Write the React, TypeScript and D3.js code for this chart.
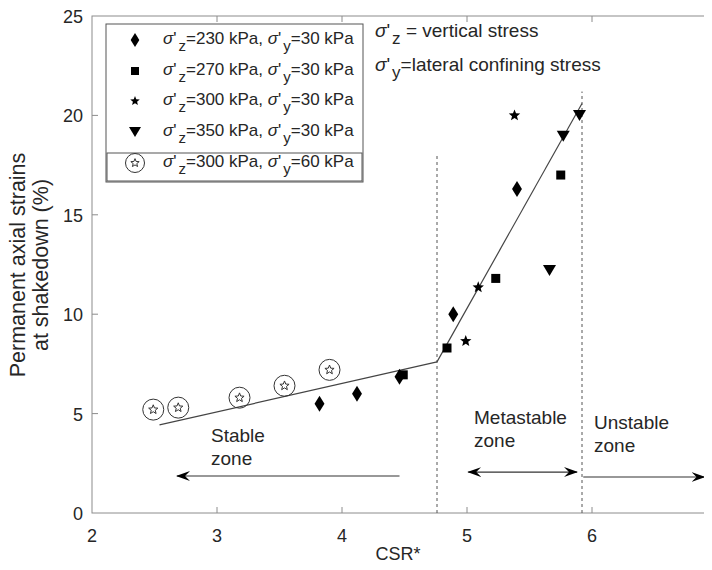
import React, { useEffect, useRef } from "react";
import * as d3 from "d3";

// csr* vs permanent axial strain at shakedown
const s300c60X = [2.49, 2.69, 3.18, 3.54, 3.9];
const s300c60Y = [5.2, 5.3, 5.8, 6.4, 7.2];
const s230X = [3.82, 4.12, 4.46, 4.89, 5.4];
const s230Y = [5.5, 6.0, 6.85, 10.0, 16.3];
const s270X = [4.49, 4.84, 5.23, 5.75];
const s270Y = [6.95, 8.3, 11.8, 17.0];
const s300X = [4.99, 5.09, 5.38];
const s300Y = [8.65, 11.35, 20.0];
const s350X = [5.66, 5.77, 5.9];
const s350Y = [12.2, 18.95, 20.0];

// fitted lines and zone limits
const stableFit = [[2.54, 4.43], [4.76, 7.6]];
const metaFit = [[4.76, 7.6], [5.92, 20.6]];
const zoneLimits = [[4.76, 18.0], [5.92, 21.2]];

const xTicks = [2, 3, 4, 5, 6, 7];
const yTicks = [0, 5, 10, 15, 20, 25];

const legendVertical = ["230", "270", "300", "350", "300"];
const legendLateral = ["30", "30", "30", "30", "60"];

const FONT = "Liberation Sans, Arial, sans-serif";
const TXT = "#262626";
const AXC = "#8c8c8c";

function starPath(rOut: number, rIn: number) {
  var pts: string[] = [];
  for (var i = 0; i < 10; i++) {
    var r = i % 2 === 0 ? rOut : rIn;
    var a = (Math.PI / 5) * i - Math.PI / 2;
    pts.push((r * Math.cos(a)).toFixed(2) + "," + (r * Math.sin(a)).toFixed(2));
  }
  return "M" + pts.join("L") + "Z";
}

function drawMarker(g: any, kind: string, size: number) {
  if (kind === "diamond") {
    var w = size * 0.62, h = size;
    g.append("path").attr("d", `M0,${-h / 2}L${w / 2},0L0,${h / 2}L${-w / 2},0Z`).attr("fill", "#000");
  } else if (kind === "square") {
    g.append("rect").attr("x", -size / 2).attr("y", -size / 2).attr("width", size).attr("height", size).attr("fill", "#000");
  } else if (kind === "star") {
    g.append("path").attr("d", starPath(size / 2, size / 4.6)).attr("fill", "#000");
  } else if (kind === "tri") {
    var tw = size, th = size * 0.85;
    g.append("path").attr("d", `M${-tw / 2},${-th / 2}L${tw / 2},${-th / 2}L0,${th / 2}Z`).attr("fill", "#000");
  } else if (kind === "circstar") {
    g.append("circle").attr("r", size / 2).attr("fill", "none").attr("stroke", "#333").attr("stroke-width", 1);
    g.append("path").attr("d", starPath(size * 0.23, size * 0.1)).attr("fill", "none").attr("stroke", "#333").attr("stroke-width", 1);
  }
}

function App() {
  const ref = useRef<SVGSVGElement>(null);

  useEffect(() => {
    var svg = d3.select(ref.current);
    svg.selectAll("*").remove();

    var x = d3.scaleLinear().domain([2, 7]).range([92, 717]);
    var y = d3.scaleLinear().domain([0, 25]).range([513, 16]);

    var defs = svg.append("defs");
    defs
      .append("marker")
      .attr("id", "ah")
      .attr("viewBox", "0 -6 14 12")
      .attr("refX", 13)
      .attr("refY", 0)
      .attr("markerWidth", 14)
      .attr("markerHeight", 12)
      .attr("markerUnits", "userSpaceOnUse")
      .attr("orient", "auto-start-reverse")
      .append("path")
      .attr("d", "M0,-5L14,0L0,5L5,0Z")
      .attr("fill", "#000");

    // axes box
    svg.append("rect").attr("x", x(2)).attr("y", y(25)).attr("width", x(7) - x(2)).attr("height", y(0) - y(25))
      .attr("fill", "#fff").attr("stroke", AXC).attr("stroke-width", 1);

    // ticks
    xTicks.forEach(function (t) {
      if (t === 2 || t === 7) return;
      svg.append("line").attr("x1", x(t)).attr("x2", x(t)).attr("y1", y(0)).attr("y2", y(0) - 6).attr("stroke", AXC);
      svg.append("line").attr("x1", x(t)).attr("x2", x(t)).attr("y1", y(25)).attr("y2", y(25) + 6).attr("stroke", AXC);
    });
    yTicks.forEach(function (t) {
      if (t === 0 || t === 25) return;
      svg.append("line").attr("x1", x(2)).attr("x2", x(2) + 6).attr("y1", y(t)).attr("y2", y(t)).attr("stroke", AXC);
    });

    svg.append("g").selectAll("text").data(xTicks).enter().append("text")
      .attr("x", function (d) { return x(d); }).attr("y", y(0) + 29)
      .attr("text-anchor", "middle").attr("font-family", FONT).attr("font-size", 18).attr("fill", TXT)
      .text(function (d) { return d; });
    svg.append("g").selectAll("text").data(yTicks).enter().append("text")
      .attr("x", x(2) - 9).attr("y", function (d) { return y(d) + 7; })
      .attr("text-anchor", "end").attr("font-family", FONT).attr("font-size", 18).attr("fill", TXT)
      .text(function (d) { return d; });

    svg.append("text").attr("x", 398).attr("y", 560).attr("text-anchor", "middle")
      .attr("font-family", FONT).attr("font-size", 18).attr("fill", TXT).text("CSR*");
    var yl = svg.append("text").attr("transform", "translate(25,265) rotate(-90)").attr("text-anchor", "middle")
      .attr("font-family", FONT).attr("font-size", 21.5).attr("fill", TXT);
    yl.append("tspan").attr("x", 0).attr("y", 0).text("Permanent axial strains");
    yl.append("tspan").attr("x", 0).attr("y", 23).text("at shakedown (%)");

    // zone limits
    zoneLimits.forEach(function (z) {
      svg.append("line").attr("x1", x(z[0])).attr("x2", x(z[0])).attr("y1", y(0)).attr("y2", y(z[1]))
        .attr("stroke", "#555").attr("stroke-width", 1).attr("stroke-dasharray", "3,3");
    });

    // fit lines
    var line = d3.line().x(function (d: any) { return x(d[0]); }).y(function (d: any) { return y(d[1]); });
    [stableFit, metaFit].forEach(function (f) {
      svg.append("path").attr("d", line(f as any)).attr("fill", "none").attr("stroke", "#444").attr("stroke-width", 1.2);
    });

    // markers
    var series = [
      { xs: s230X, ys: s230Y, kind: "diamond", size: 16 },
      { xs: s270X, ys: s270Y, kind: "square", size: 9 },
      { xs: s300X, ys: s300Y, kind: "star", size: 12 },
      { xs: s350X, ys: s350Y, kind: "tri", size: 13 },
      { xs: s300c60X, ys: s300c60Y, kind: "circstar", size: 21 },
    ];
    series.forEach(function (s) {
      s.xs.forEach(function (v, i) {
        var g = svg.append("g").attr("transform", "translate(" + x(v) + "," + y(s.ys[i]) + ")");
        drawMarker(g, s.kind, s.size);
      });
    });

    // arrows
    svg.append("line").attr("x1", x(4.46)).attr("x2", x(2.68)).attr("y1", y(1.86)).attr("y2", y(1.86))
      .attr("stroke", "#333").attr("stroke-width", 1.2).attr("marker-end", "url(#ah)");
    svg.append("line").attr("x1", x(5.01)).attr("x2", x(5.88)).attr("y1", y(2.06)).attr("y2", y(2.06))
      .attr("stroke", "#333").attr("stroke-width", 1.2).attr("marker-end", "url(#ah)").attr("marker-start", "url(#ah)");
    svg.append("line").attr("x1", x(5.93)).attr("x2", x(6.9)).attr("y1", y(1.81)).attr("y2", y(1.81))
      .attr("stroke", "#333").attr("stroke-width", 1.2).attr("marker-end", "url(#ah)");

    // zone labels
    function label(tx: number, ty: number, l1: string, l2: string) {
      var t = svg.append("text").attr("font-family", FONT).attr("font-size", 19).attr("fill", TXT);
      t.append("tspan").attr("x", tx).attr("y", ty).text(l1);
      t.append("tspan").attr("x", tx).attr("y", ty + 23).text(l2);
    }
    label(211, 442, "Stable", "zone");
    label(474, 424, "Metastable", "zone");
    label(594, 429, "Unstable", "zone");

    // stress notes
    function sigma(t: any, sub: string, subSize: number) {
      t.append("tspan").attr("font-style", "italic").text("\u03c3");
      t.append("tspan").text("'");
      t.append("tspan").attr("dy", 7).attr("dx", 2).attr("font-size", subSize).text(sub);
    }
    var n1 = svg.append("text").attr("x", 375).attr("y", 37).attr("font-family", FONT).attr("font-size", 19).attr("fill", TXT);
    sigma(n1, "z", 17);
    n1.append("tspan").attr("dy", -7).text(" = vertical stress");
    var n2 = svg.append("text").attr("x", 375).attr("y", 71).attr("font-family", FONT).attr("font-size", 19).attr("fill", TXT);
    sigma(n2, "y", 17);
    n2.append("tspan").attr("dy", -7).text("=lateral confining stress");

    // legend
    var lg = svg.append("g");
    lg.append("rect").attr("x", 106).attr("y", 24).attr("width", 257).attr("height", 158)
      .attr("fill", "#fff").attr("stroke", "#555").attr("stroke-width", 1);
    lg.append("rect").attr("x", 107).attr("y", 153).attr("width", 255).attr("height", 28)
      .attr("fill", "none").attr("stroke", "#555").attr("stroke-width", 1);
    var legKinds = [
      { kind: "diamond", size: 14 },
      { kind: "square", size: 8 },
      { kind: "star", size: 10 },
      { kind: "tri", size: 12 },
      { kind: "circstar", size: 19 },
    ];
    var rowY = [40, 71, 101, 132, 163];
    legKinds.forEach(function (k, i) {
      var g = lg.append("g").attr("transform", "translate(135," + rowY[i] + ")");
      drawMarker(g, k.kind, k.size);
      var t = lg.append("text").attr("x", 163).attr("y", rowY[i] + 4).attr("font-family", FONT)
        .attr("font-size", 17).attr("fill", TXT);
      sigma(t, "z", 15);
      t.append("tspan").attr("dy", -7).text("=" + legendVertical[i] + " kPa, ");
      sigma(t, "y", 15);
      t.append("tspan").attr("dy", -7).text("=" + legendLateral[i] + " kPa");
    });
  }, []);

  return (
    <svg ref={ref} width={704} height={570} style={{ display: "block", marginTop: -8, marginLeft: -8 }}></svg>
  );
}

export default App;
